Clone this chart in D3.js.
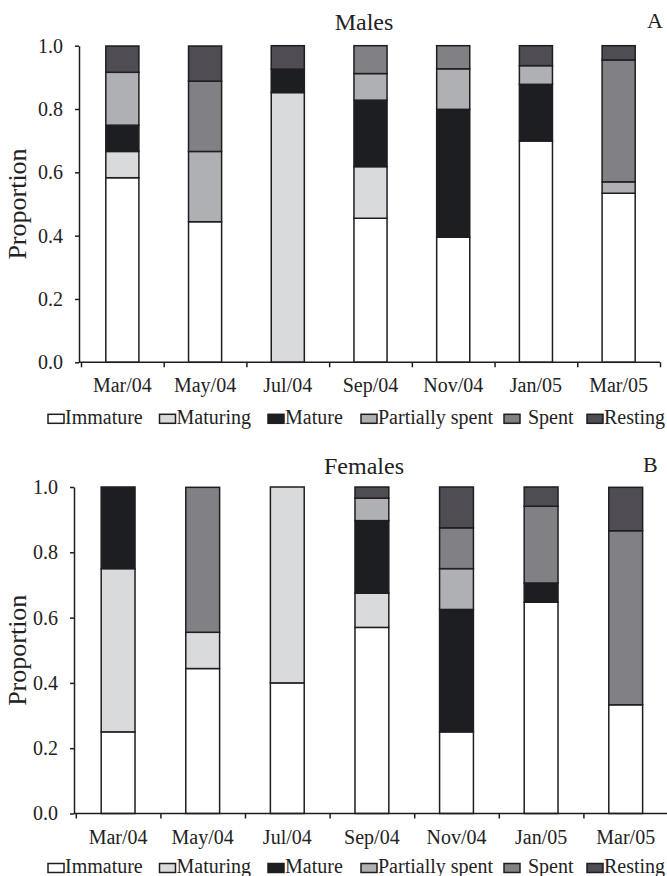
<!DOCTYPE html>
<html>
<head>
<meta charset="utf-8">
<script src="https://cdn.jsdelivr.net/npm/d3@7"></script>
<style>
  body { margin: 0; background: #fff; }
  svg { display: block; font-family: "Liberation Serif", "Times New Roman", serif; }
</style>
</head>
<body>
<svg width="667" height="876"></svg>
<script>
// Sampling dates and maturity stages
var dates = ["Mar/04", "May/04", "Jul/04", "Sep/04", "Nov/04", "Jan/05", "Mar/05"];
var stages = ["Immature", "Maturing", "Mature", "Partially spent", "Spent", "Resting"];
var stageColors = ["#ffffff", "#d9dadc", "#1d1e21", "#afb0b3", "#818085", "#4f4d53"];
var yTicks = [0, 0.2, 0.4, 0.6, 0.8, 1.0];

// Males (panel A), proportion per stage for each date
var maleImmature = [0.583, 0.444, 0.0, 0.455, 0.395, 0.699, 0.534];
var maleMaturing = [0.083, 0.0, 0.852, 0.163, 0.0, 0.0, 0.0];
var maleMature = [0.083, 0.0, 0.074, 0.21, 0.404, 0.179, 0.0];
var malePartial = [0.167, 0.222, 0.0, 0.084, 0.128, 0.059, 0.036];
var maleSpent = [0.0, 0.222, 0.0, 0.088, 0.073, 0.0, 0.385];
var maleResting = [0.083, 0.111, 0.074, 0.0, 0.0, 0.063, 0.045];

// Females (panel B)
var femaleImmature = [0.25, 0.444, 0.4, 0.57, 0.25, 0.647, 0.333];
var femaleMaturing = [0.5, 0.111, 0.6, 0.105, 0.0, 0.0, 0.0];
var femaleMature = [0.25, 0.0, 0.0, 0.222, 0.375, 0.059, 0.0];
var femalePartial = [0.0, 0.0, 0.0, 0.069, 0.125, 0.0, 0.0];
var femaleSpent = [0.0, 0.444, 0.0, 0.0, 0.125, 0.235, 0.533];
var femaleResting = [0.0, 0.0, 0.0, 0.034, 0.125, 0.059, 0.133];

var svg = d3.select("svg");
var ink = "#1e1e22";

// build rows {date, Immature: .., Maturing: .., ...} from the series arrays
function makeRows(series) {
  return dates.map(function (d, i) {
    var row = { date: d };
    stages.forEach(function (s, j) {
      row[s] = series[j][i];
    });
    return row;
  });
}

function drawPanel(opts) {
  var rows = makeRows(opts.series);
  var stack = d3.stack().keys(stages)(rows);

  var x = d3
    .scaleBand()
    .domain(dates)
    .range([opts.bandLeft, opts.bandRight])
    .paddingInner(0.6)
    .paddingOuter(0.3);

  var y = d3.scaleLinear().domain([0, 1]).range([opts.bottom, opts.top]);

  var g = svg.append("g");

  // stacked bars
  g.selectAll(".layer")
    .data(stack)
    .enter()
    .append("g")
    .attr("class", "layer")
    .attr("fill", function (d, i) {
      return stageColors[i];
    })
    .selectAll("rect")
    .data(function (d) {
      return d;
    })
    .enter()
    .append("rect")
    .attr("x", function (d) {
      return x(d.data.date);
    })
    .attr("y", function (d) {
      return y(d[1]);
    })
    .attr("width", x.bandwidth())
    .attr("height", function (d) {
      return y(d[0]) - y(d[1]);
    })
    .attr("stroke", ink)
    .attr("stroke-width", 1.5);

  // y axis
  g.append("g")
    .attr("transform", "translate(" + opts.axisX + ",0)")
    .call(
      d3.axisLeft(y).tickValues(yTicks).tickFormat(d3.format(".1f")).tickSize(4).tickSizeOuter(0).tickPadding(12)
    )
    .attr("font-size", 20)
    .attr("font-family", null);

  // x axis: a line with ticks at band boundaries, labels under band centres
  var edges = d3.scaleLinear().domain([0, dates.length]).range([opts.bandLeft, opts.bandRight]);
  var xTicks = g
    .append("g")
    .attr("transform", "translate(0," + opts.bottom + ")")
    .call(d3.axisBottom(edges).tickValues(d3.range(0, dates.length + 1)).tickFormat("").tickSize(5).tickSizeOuter(0));
  xTicks.select(".domain").remove();

  g.append("line")
    .attr("x1", opts.axisX)
    .attr("x2", opts.bandRight)
    .attr("y1", opts.bottom)
    .attr("y2", opts.bottom)
    .attr("stroke", ink)
    .attr("stroke-width", 1.5);

  var xLabels = g
    .append("g")
    .attr("transform", "translate(0," + opts.bottom + ")")
    .call(d3.axisBottom(x).tickSize(0).tickPadding(16))
    .attr("font-size", 20)
    .attr("font-family", null);
  xLabels.select(".domain").remove();

  g.selectAll(".tick text").attr("fill", "#222");
  g.selectAll(".tick line").attr("stroke", ink).attr("stroke-width", 1.5);
  g.selectAll(".domain").attr("stroke", ink).attr("stroke-width", 1.5);

  // axis title
  g.append("text")
    .attr("transform", "translate(26," + (opts.top + opts.bottom) / 2 + ") rotate(-90)")
    .attr("text-anchor", "middle")
    .attr("font-size", 26)
    .attr("fill", "#222")
    .text("Proportion");

  // panel title and letter
  g.append("text")
    .attr("x", 364)
    .attr("y", opts.titleY)
    .attr("text-anchor", "middle")
    .attr("font-size", 24)
    .attr("fill", "#222")
    .text(opts.title);

  g.append("text")
    .attr("x", opts.letterX)
    .attr("y", opts.titleY - 2)
    .attr("font-size", 22)
    .attr("fill", "#222")
    .text(opts.letter);

  // legend
  var legendX = [48, 159.5, 268, 361, 504, 587];
  var legend = g
    .append("g")
    .attr("transform", "translate(0," + (opts.bottom + opts.legendGap) + ")");

  var item = legend
    .selectAll(".item")
    .data(stages)
    .enter()
    .append("g")
    .attr("class", "item")
    .attr("transform", function (d, i) {
      return "translate(" + legendX[i] + ",0)";
    });

  item
    .append("rect")
    .attr("width", 16)
    .attr("height", 9)
    .attr("fill", function (d, i) {
      return stageColors[i];
    })
    .attr("stroke", ink)
    .attr("stroke-width", 1.5);

  item
    .append("text")
    .attr("x", function (d) {
      return d === "Spent" ? 24 : 17;
    })
    .attr("y", 9.5)
    .attr("font-size", 20)
    .attr("fill", "#222")
    .text(function (d) {
      return d;
    });
}

drawPanel({
  series: [maleImmature, maleMaturing, maleMature, malePartial, maleSpent, maleResting],
  title: "Males",
  letter: "A",
  letterX: 647,
  titleY: 30,
  axisX: 79,
  bandLeft: 81,
  bandRight: 660,
  top: 45.7,
  bottom: 362.3,
  legendGap: 52
});

drawPanel({
  series: [femaleImmature, femaleMaturing, femaleMature, femalePartial, femaleSpent, femaleResting],
  title: "Females",
  letter: "B",
  letterX: 643,
  titleY: 474,
  axisX: 74,
  bandLeft: 75.8,
  bandRight: 668,
  top: 487,
  bottom: 813.5,
  legendGap: 50
});
</script>
</body>
</html>
